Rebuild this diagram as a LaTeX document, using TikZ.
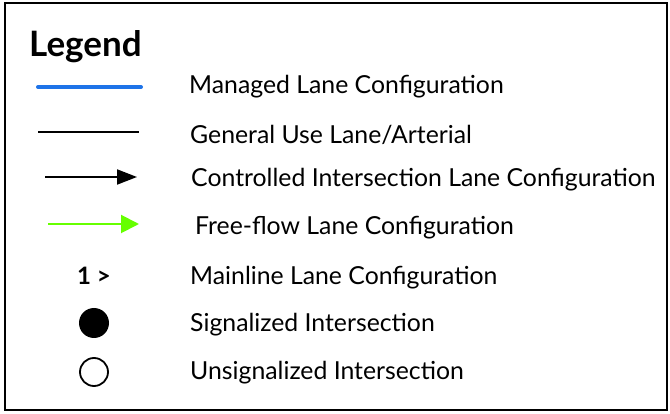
\documentclass[tikz,border=0pt]{standalone}
\usepackage{fontspec}
\setmainfont{Lato}
\usetikzlibrary{arrows.meta}
\definecolor{mblue}{HTML}{1E73E8}
\definecolor{fgreen}{HTML}{66FF00}
\tikzset{
  lbl/.style={anchor=base west, inner sep=0pt, font=\fontsize{24.8}{26}\selectfont},
}
\begin{document}
\begin{tikzpicture}[x=1pt,y=-1pt]
\useasboundingbox (0,0) rectangle (670,414);
\draw[line width=2pt] (5,3) rectangle (667,410);
\node[anchor=base west, inner sep=0pt, font=\fontsize{35}{40}\selectfont\bfseries] (title) at (29,57) {Legend};
% symbols
\coordinate (b1) at (38,87); \coordinate (b2) at (141,87);
\draw[mblue, line width=4pt, line cap=round] (b1) -- (b2);
\coordinate (g1) at (38,132); \coordinate (g2) at (139,132);
\draw[line width=2pt] (g1) -- (g2);
\coordinate (c1) at (45,177); \coordinate (c2) at (137,177);
\draw[line width=2pt, -{Triangle[length=20pt,width=15pt]}] (c1) -- (c2);
\coordinate (f1) at (48,224); \coordinate (f2) at (139,224);
\draw[fgreen, line width=2pt, -{Triangle[length=18pt,width=18pt]}] (f1) -- (f2);
\node[inner sep=0pt, anchor=base, font=\fontsize{24}{26}\selectfont\bfseries] (ml) at (94,285) {1 >};
\node[circle, fill=black, minimum size=30pt, inner sep=0pt] (sig) at (94,323) {};
\node[circle, draw=black, line width=1.8pt, minimum size=28pt, inner sep=0pt] (uns) at (94,372) {};
% labels
\node[lbl] (t1) at (189,94) {Managed Lane Configuration};
\node[lbl] (t2) at (190,144) {General Use Lane/Arterial};
\node[lbl] (t3) at (191,187) {Controlled Intersection Lane Configuration};
\node[lbl] (t4) at (195,235) {Free-flow Lane Configuration};
\node[lbl] (t5) at (190,285) {Mainline Lane Configuration};
\node[lbl] (t6) at (190,332) {Signalized Intersection};
\node[lbl] (t7) at (190,379) {Unsignalized Intersection};
\end{tikzpicture}
\end{document}
